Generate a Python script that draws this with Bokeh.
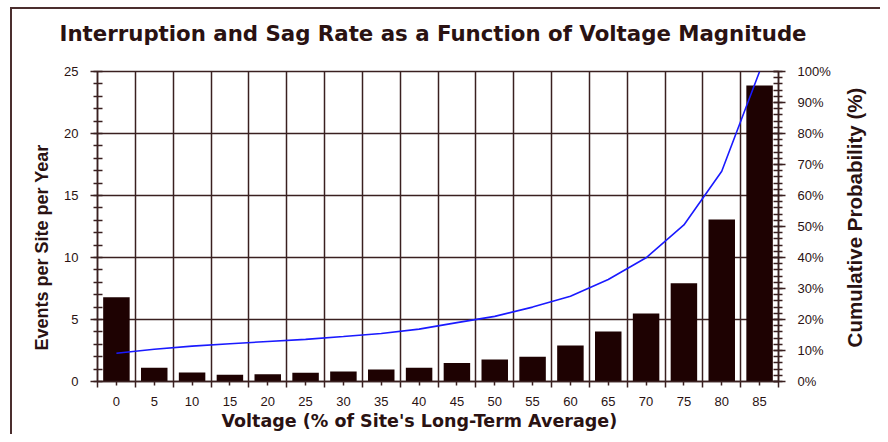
import math
from bokeh.plotting import figure
from bokeh.models import (Range1d, LinearAxis, FixedTicker, SingleIntervalTicker,
                          PrintfTickFormatter, Title, ColumnDataSource)
from bokeh.embed import file_html
from bokeh.resources import INLINE

# ---- data ----
voltage = [0, 5, 10, 15, 20, 25, 30, 35, 40, 45, 50, 55, 60, 65, 70, 75, 80, 85]
events = [6.8, 1.1, 0.73, 0.54, 0.59, 0.7, 0.8, 0.97, 1.1, 1.5, 1.77, 2.0,
          2.9, 4.03, 5.48, 7.93, 13.06, 23.87]
cumulative = [9.1, 10.4, 11.4, 12.2, 12.9, 13.6, 14.5, 15.5, 16.9, 19.0, 21.0,
              24.0, 27.5, 32.9, 39.9, 50.5, 67.8, 100.0]
x_tick_labels = [str(v) for v in voltage]

title_text = "Interruption and Sag Rate as a Function of Voltage Magnitude"
x_label = "Voltage (% of Site's Long-Term Average)"
y_label = "Events per Site per Year"
y2_label = "Cumulative Probability (%)"

BAR = "#1e0202"
GRID = "#3a2020"
TXT = "#2a1212"
LINE = "#1a1aff"
FRAME = "#4b2e2e"

src = ColumnDataSource(dict(voltage=voltage, events=events, cumulative=cumulative))

p = figure(width=880, height=434, output_backend="svg", toolbar_location=None,
           x_range=Range1d(-2.5, 87.5), y_range=Range1d(0, 25),
           min_border_left=97, min_border_right=95, min_border_top=71,
           min_border_bottom=53, background_fill_color="white",
           border_fill_color=None)
p.extra_y_ranges = {"pct": Range1d(0, 100)}
p.outline_line_color = GRID
p.outline_line_width = 1.5

p.vbar(x="voltage", top="events", bottom=0, width=3.5, source=src,
       fill_color=BAR, line_color=None)
p.line(x="voltage", y="cumulative", y_range_name="pct", source=src,
       line_color=LINE, line_width=1.6)

half = (voltage[1] - voltage[0]) / 2
boundaries = [v - half for v in voltage] + [voltage[-1] + half]

# x axis
xa = p.xaxis[0]
xa.ticker = FixedTicker(ticks=voltage, minor_ticks=boundaries)
xa.major_label_overrides = {v: s for v, s in zip(voltage, x_tick_labels)}
xa.major_tick_in = 0
xa.major_tick_out = 4
xa.minor_tick_in = 0
xa.minor_tick_out = 6
xa.major_label_standoff = 9

# left axis
ya = p.yaxis[0]
ya.ticker = SingleIntervalTicker(interval=5, num_minor_ticks=5)
ya.major_tick_in = 0
ya.major_tick_out = 7
ya.minor_tick_in = 5
ya.minor_tick_out = 4
ya.major_label_standoff = 12

# right axis (percent)
ra = LinearAxis(y_range_name="pct",
                ticker=SingleIntervalTicker(interval=10, num_minor_ticks=5),
                formatter=PrintfTickFormatter(format="%d%%"))
ra.major_tick_in = 5
ra.major_tick_out = 7
ra.minor_tick_in = 5
ra.minor_tick_out = 4
ra.major_label_standoff = 12
p.add_layout(ra, "right")

for ax in (xa, ya, ra):
    ax.axis_line_color = GRID
    ax.axis_line_width = 1.5
    ax.major_tick_line_color = GRID
    ax.major_tick_line_width = 1.5
    ax.minor_tick_line_color = GRID
    ax.minor_tick_line_width = 1.5
    ax.major_label_text_font = "Liberation Sans"
    ax.major_label_text_font_size = "13px"
    ax.major_label_text_color = TXT

# right-hand axis title, reading bottom-to-top, carried by a bare outer axis
y2_anchor = 11
ra_title = LinearAxis(y_range_name="pct", ticker=FixedTicker(ticks=[y2_anchor]),
                      major_label_overrides={y2_anchor: y2_label},
                      major_label_orientation=math.pi / 2,
                      axis_line_color=None, major_tick_line_color=None,
                      minor_tick_line_color=None, major_tick_in=0,
                      major_tick_out=0, major_label_standoff=21,
                      major_label_text_font="Liberation Sans",
                      major_label_text_font_style="bold",
                      major_label_text_font_size="20.5px",
                      major_label_text_color=TXT)
p.add_layout(ra_title, "right")

p.xgrid.ticker = FixedTicker(ticks=boundaries)
p.ygrid.ticker = SingleIntervalTicker(interval=5)
for g in (p.xgrid[0], p.ygrid[0]):
    g.grid_line_color = GRID
    g.grid_line_width = 1.5
    g.grid_line_alpha = 1.0

# chart title: a blank spacer next to the frame, then the title above it
spacer = Title(text=" ", text_font_size="8px", standoff=15)
p.add_layout(spacer, "above")
tt = Title(text=title_text, align="left", offset=-38, text_font="DejaVu Sans",
           text_font_style="bold", text_font_size="21.3px", text_color=TXT,
           standoff=0)
p.add_layout(tt, "above")

# axis titles as side-panel titles (allow offsets)
xt = Title(text=x_label, align="left", offset=124, text_font="DejaVu Sans",
           text_font_style="bold", text_font_size="17.5px", text_color=TXT,
           standoff=0)
p.add_layout(xt, "below")
yt = Title(text=y_label, align="left", offset=31, text_font="Liberation Sans",
           text_font_style="bold", text_font_size="18px", text_color=TXT,
           standoff=20)
p.add_layout(yt, "left")

p.styles = {
    "background": ("linear-gradient(%s,%s) 10px 7px / 100%% 2px no-repeat, "
                   "linear-gradient(%s,%s) 10px 7px / 2px 100%% no-repeat, white")
    % (FRAME, FRAME, FRAME, FRAME)
}

open("out.html", "w").write(file_html(p, INLINE))
